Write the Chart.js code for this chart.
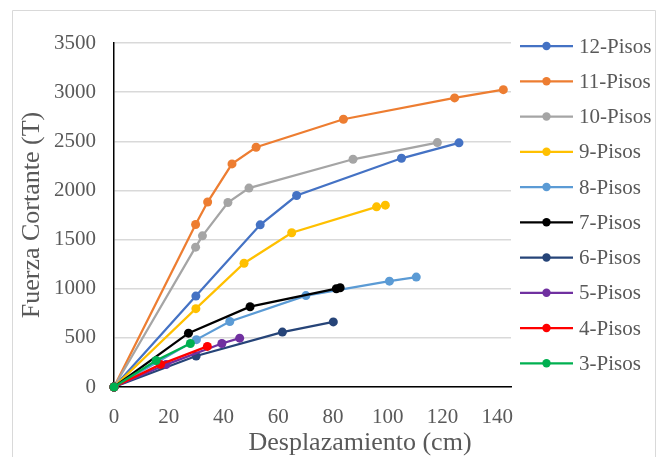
<!DOCTYPE html>
<html>
<head>
<meta charset="utf-8">
<script src="https://cdn.jsdelivr.net/npm/chart.js@4/dist/chart.umd.min.js"></script>
<style>
  body { margin: 0; background: #fff; }
  canvas { display: block; }
</style>
</head>
<body>
<canvas id="curvaCapacidad" width="657" height="457"></canvas>
<script>
// Curvas de capacidad: desplazamiento (cm) vs fuerza cortante (T)
const seriesNames = ['12-Pisos', '11-Pisos', '10-Pisos', '9-Pisos', '8-Pisos', '7-Pisos', '6-Pisos', '5-Pisos', '4-Pisos', '3-Pisos'];
const seriesColors = ['#4472C4', '#ED7D31', '#A5A5A5', '#FFC000', '#5B9BD5', '#000000', '#264478', '#7030A0', '#FF0000', '#00B050'];

const desp12 = [0, 29.9, 53.4, 66.7, 105, 126];
const fuerza12 = [0, 925, 1650, 1948, 2327, 2484];
const desp11 = [0, 29.8, 34.2, 43.1, 51.9, 83.8, 124.4, 142.2];
const fuerza11 = [0, 1653, 1882, 2270, 2439, 2724, 2941, 3025];
const desp10 = [0, 29.8, 32.3, 41.6, 49.3, 87.3, 118.1];
const fuerza10 = [0, 1423, 1538, 1877, 2024, 2317, 2487];
const desp9 = [0, 29.9, 47.5, 64.9, 95.9, 99.1];
const fuerza9 = [0, 797, 1259, 1569, 1833, 1850];
const desp8 = [0, 30.1, 42.3, 70.1, 100.6, 110.4];
const fuerza8 = [0, 482, 666, 930, 1077, 1118];
const desp7 = [0, 27.2, 49.7, 81.2, 82.6];
const fuerza7 = [0, 548, 817, 1000, 1010];
const desp6 = [0, 30, 61.5, 80.1];
const fuerza6 = [0, 315, 559, 662];
const desp5 = [0, 19, 39.4, 45.9];
const fuerza5 = [0, 228, 443, 497];
const desp4 = [0, 17, 34.1];
const fuerza4 = [0, 230, 413];
const desp3 = [0, 15.4, 27.9];
const fuerza3 = [0, 270, 443];

const allDesp = [desp12, desp11, desp10, desp9, desp8, desp7, desp6, desp5, desp4, desp3];
const allFuerza = [fuerza12, fuerza11, fuerza10, fuerza9, fuerza8, fuerza7, fuerza6, fuerza5, fuerza4, fuerza3];

const xMin = 0, xMax = 145, xStep = 20;
const yMin = 0, yMax = 3500, yStep = 500;

const serif = '"Liberation Serif", "Times New Roman", serif';
const textGray = '#595959';

Chart.defaults.font.family = serif;
Chart.defaults.color = textGray;

const datasets = seriesNames.map((name, i) => ({
    label: name,
    data: allDesp[i].map((x, j) => ({ x: x, y: allFuerza[i][j] })),
    borderColor: seriesColors[i],
    backgroundColor: seriesColors[i],
    borderWidth: 2.25,
    pointRadius: 4.5,
    pointHoverRadius: 4.5,
    pointBorderWidth: 0,
    tension: 0,
    clip: false,
    order: 12 - i  // first series at the bottom, like Excel
}));

// frame, axis titles and legend drawn by hand
const extras = {
    id: 'extras',
    beforeDraw(chart) {
        const ctx = chart.ctx;
        ctx.save();
        ctx.strokeStyle = '#d9d9d9';
        ctx.lineWidth = 1;
        ctx.beginPath();
        ctx.moveTo(12.5, 470);
        ctx.lineTo(12.5, 10.5);
        ctx.lineTo(655.5, 10.5);
        ctx.lineTo(655.5, 470);
        ctx.stroke();
        ctx.restore();
    },
    afterDraw(chart) {
        const ctx = chart.ctx;
        ctx.save();
        ctx.fillStyle = textGray;
        ctx.font = '26px ' + serif;
        ctx.textAlign = 'center';
        ctx.textBaseline = 'alphabetic';
        ctx.fillText('Desplazamiento (cm)', 360, 450);
        ctx.translate(39, 215);
        ctx.rotate(-Math.PI / 2);
        ctx.fillText('Fuerza Cortante (T)', 0, 0);
        ctx.restore();

        ctx.save();
        ctx.font = '21px ' + serif;
        ctx.textAlign = 'left';
        ctx.textBaseline = 'middle';
        seriesNames.forEach((name, i) => {
            const y = 46 + i * 35.25;
            ctx.strokeStyle = seriesColors[i];
            ctx.lineWidth = 2.25;
            ctx.beginPath();
            ctx.moveTo(520, y);
            ctx.lineTo(573, y);
            ctx.stroke();
            ctx.fillStyle = seriesColors[i];
            ctx.beginPath();
            ctx.arc(546.5, y, 4.2, 0, Math.PI * 2);
            ctx.fill();
            ctx.fillStyle = textGray;
            ctx.fillText(name, 579, y + 1);
        });
        ctx.restore();
    }
};

new Chart(document.getElementById('curvaCapacidad'), {
    type: 'line',
    data: { datasets: datasets },
    options: {
        responsive: false,
        animation: false,
        events: [],
        layout: { padding: { left: 0, top: 43, right: 146, bottom: 0 } },
        plugins: {
            legend: { display: false },
            tooltip: { enabled: false }
        },
        scales: {
            x: {
                type: 'linear',
                min: xMin,
                max: xMax,
                grid: { display: false },
                border: { display: true, color: '#000', width: 1.5 },
                ticks: {
                    stepSize: xStep, includeBounds: false, padding: 10, color: textGray,
                    font: { size: 21 }, maxRotation: 0,
                    callback: v => String(v)
                },
                afterFit(scale) { scale.height = 70; }
            },
            y: {
                type: 'linear',
                min: yMin,
                max: yMax,
                grid: { color: '#d9d9d9', lineWidth: 1.5, drawTicks: false },
                border: { display: true, color: '#000', width: 1.5 },
                ticks: {
                    stepSize: yStep, padding: 18, color: textGray, font: { size: 21 },
                    callback: v => String(v)
                },
                afterFit(scale) { scale.width = 114; }
            }
        }
    },
    plugins: [extras]
});
</script>
</body>
</html>
